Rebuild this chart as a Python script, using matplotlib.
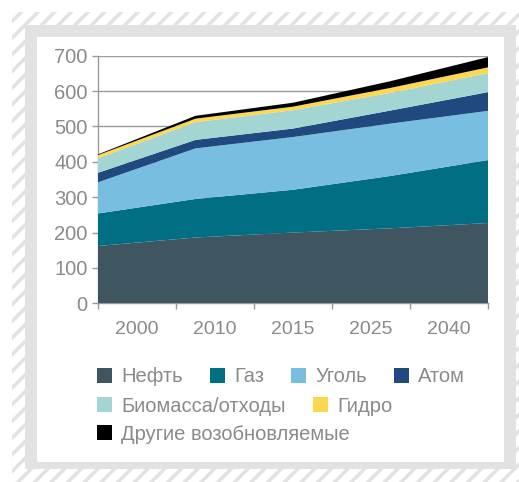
import numpy as np
import matplotlib
matplotlib.use("Agg")
import matplotlib.pyplot as plt
from matplotlib.patches import Rectangle, Patch

plt.rcParams['font.family'] = ['Liberation Sans', 'DejaVu Sans']
plt.rcParams['hatch.linewidth'] = 2.5

# data
years = ["2000", "2010", "2015", "2025", "2040"]
oil = [162, 186, 200, 212, 227]
gas = [92, 109, 121, 148, 178]
coal = [88, 143, 149, 148, 139]
nuclear = [27, 24, 24, 37, 53]
biomass = [41, 50, 52, 50, 54]
hydro = [9, 10, 10, 14, 16]
other = [2, 8, 11, 19, 29]

names = ["Нефть", "Газ", "Уголь", "Атом", "Биомасса/отходы", "Гидро",
         "Другие возобновляемые"]
colors = ["#3f5661", "#006f84", "#78bee0", "#204a7f", "#a3d6d3", "#fdd74f",
          "#000000"]
series = [oil, gas, coal, nuclear, biomass, hydro, other]

W, H = 519, 482
fig = plt.figure(figsize=(W / 100, H / 100), dpi=100)


def frac_rect(x0, y0, x1, y1, **kw):
    # pixel box (top-left origin) -> figure fraction rectangle
    return Rectangle((x0 / W, 1 - y1 / H), (x1 - x0) / W, (y1 - y0) / H,
                     transform=fig.transFigure, zorder=-5, **kw)


# frame: hatched outer band, grey band, white panel
fig.patches.append(frac_rect(12, 12, W + 5, H + 5, facecolor="white",
                             edgecolor="#e2e2e2", hatch="//", linewidth=0))
fig.patches.append(frac_rect(25, 25, 516, 469, facecolor="#e2e2e2",
                             linewidth=0))
fig.patches.append(frac_rect(37, 37, 504, 462, facecolor="white",
                             linewidth=0))

ax = fig.add_axes([98 / W, 1 - 303.3 / H, 390 / W, 247.6 / H])
ax.set_facecolor("none")

x = np.arange(len(years))
ax.stackplot(x, *series, colors=colors, linewidth=0, zorder=3)

ax.set_xlim(0, len(years) - 1)
ax.set_ylim(0, 700)
ax.set_yticks(np.arange(0, 701, 100))
ax.grid(axis="y", color="#9a9a9a", linewidth=1, zorder=0)

# tick marks between categories, labels at category centres
n = len(years)
step = (n - 1) / n
ax.set_xticks(np.arange(n + 1) * step)
ax.set_xticklabels([])
ax.set_xticks((np.arange(n) + 0.5) * step, minor=True)
ax.set_xticklabels(years, minor=True)
ax.tick_params(axis="x", which="major", length=4.5, color="#9a9a9a", width=1)
ax.tick_params(axis="x", which="minor", length=0, pad=13, labelsize=14,
               labelcolor="#8a8a8a")
ax.tick_params(axis="y", length=4.5, color="#9a9a9a", width=1, pad=3,
               labelsize=14.5, labelcolor="#8a8a8a")

for s in ["top", "right"]:
    ax.spines[s].set_visible(False)
for s in ["left", "bottom"]:
    ax.spines[s].set_color("#9a9a9a")
    ax.spines[s].set_linewidth(1)

# legend rows
handles = [Patch(facecolor=c, edgecolor="none") for c in colors]
rows = [(0, 4, 377), (4, 6, 406), (6, 7, 434)]
for a, b, yc in rows:
    fig.legend(handles[a:b], names[a:b], ncol=b - a, frameon=False,
               loc="center left", bbox_to_anchor=(97 / W, 1 - yc / H),
               fontsize=14.5, labelcolor="#8a8a8a", handlelength=0.75,
               handleheight=0.75, handletextpad=0.45, columnspacing=1.35,
               borderpad=0, borderaxespad=0)

fig.savefig("out.png", dpi=100)
